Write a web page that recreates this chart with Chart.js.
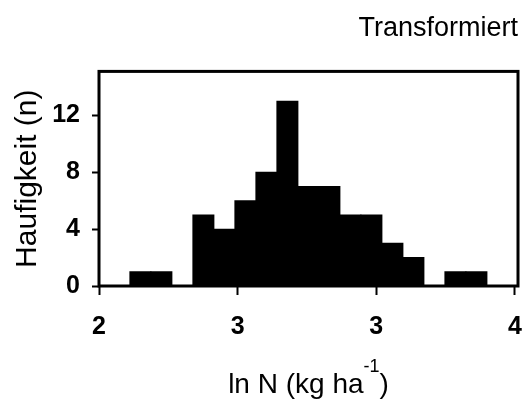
<!DOCTYPE html>
<html>
<head>
<meta charset="utf-8">
<script src="https://cdn.jsdelivr.net/npm/chart.js@4"></script>
<style>
  html, body { margin: 0; padding: 0; background: #fff; }
</style>
</head>
<body>
<canvas id="histChart" width="524" height="406"></canvas>
<script>
// Histogram of log-transformed N (ln kg/ha), one bar per bin
const binCenters = [2.199, 2.300, 2.401, 2.502, 2.603, 2.704, 2.805, 2.906, 3.007,
                    3.108, 3.209, 3.310, 3.411, 3.512, 3.613, 3.714, 3.815];
const counts = [1, 1, 0, 5, 4, 6, 8, 13, 7, 7, 5, 5, 3, 2, 0, 1, 1];

// x labels are rounded to whole numbers, hence the two "3"s
const xTickValues = [2, 2.667, 3.333, 4];
const xTickLabels = ["2", "3", "3", "4"];
const yTickValues = [0, 2, 4, 6, 8, 10, 12, 14];
const yTickLabels = ["0", "", "4", "", "8", "", "12", ""];

const FONT = "'Liberation Sans', Arial, sans-serif";

// closed box around the plot area
const frame = {
  id: "frame",
  afterDraw(chart) {
    const { ctx, chartArea: a } = chart;
    ctx.save();
    ctx.strokeStyle = "#000";
    ctx.lineWidth = 3;
    ctx.strokeRect(a.left, a.top, a.right - a.left, a.bottom - a.top);
    ctx.restore();
  }
};

// x axis title with a raised "-1"
const xTitle = {
  id: "xTitle",
  afterDraw(chart) {
    const { ctx, chartArea: a } = chart;
    const main = "ln N (kg ha";
    const sup = "-1";
    const close = ")";
    ctx.save();
    ctx.fillStyle = "#000";
    ctx.textBaseline = "alphabetic";
    ctx.font = "28px " + FONT;
    const wMain = ctx.measureText(main).width;
    const wClose = ctx.measureText(close).width;
    ctx.font = "18px " + FONT;
    const wSup = ctx.measureText(sup).width;
    let x = (a.left + a.right) / 2 - (wMain + wSup + wClose) / 2;
    const y = chart.height - 13;
    ctx.font = "28px " + FONT;
    ctx.fillText(main, x, y);
    x += wMain;
    ctx.font = "18px " + FONT;
    ctx.fillText(sup, x, y - 21);
    x += wSup;
    ctx.font = "28px " + FONT;
    ctx.fillText(close, x, y);
    ctx.restore();
  }
};

new Chart(document.getElementById("histChart"), {
  type: "bar",
  data: {
    datasets: [{
      data: binCenters.map((c, i) => ({ x: c, y: counts[i] })),
      backgroundColor: "#000",
      borderWidth: 0,
      barPercentage: 1,
      categoryPercentage: 1,
      inflateAmount: 0.5
    }]
  },
  options: {
    responsive: false,
    animation: false,
    devicePixelRatio: 1,
    layout: { padding: { left: 0, right: 6, top: 0, bottom: 0 } },
    plugins: {
      legend: { display: false },
      tooltip: { enabled: false },
      title: {
        display: true,
        text: "Transformiert",
        align: "end",
        color: "#000",
        font: { family: FONT, size: 27, weight: "normal" },
        padding: { top: 12, bottom: 27 }
      }
    },
    scales: {
      x: {
        type: "linear",
        min: 2,
        max: 4.015,
        offset: false,
        afterBuildTicks: (s) => { s.ticks = xTickValues.map((v) => ({ value: v })); },
        afterFit: (s) => { s.height = 120; s.paddingLeft = 0; s.paddingRight = 0; },
        ticks: {
          callback: (v, i) => xTickLabels[i],
          autoSkip: false,
          maxRotation: 0,
          padding: 17,
          color: "#000",
          font: { family: FONT, size: 25, weight: "bold" }
        },
        grid: {
          offset: false,
          drawOnChartArea: false,
          drawTicks: true,
          tickLength: 9,
          tickWidth: 2,
          tickColor: "#000"
        },
        border: { display: false }
      },
      y: {
        min: 0,
        max: 15.1,
        afterBuildTicks: (s) => { s.ticks = yTickValues.map((v) => ({ value: v })); },
        afterFit: (s) => { s.width = 99; },
        ticks: {
          callback: (v, i) => yTickLabels[i],
          padding: 12,
          color: "#000",
          font: { family: FONT, size: 25, weight: "bold" }
        },
        grid: {
          drawOnChartArea: false,
          drawTicks: true,
          tickLength: 7,
          tickWidth: 2,
          tickColor: "#000"
        },
        border: { display: false },
        title: {
          display: true,
          text: "Haufigkeit (n)",
          color: "#000",
          font: { family: FONT, size: 30, weight: "normal" },
          padding: { top: 10, bottom: 0 }
        }
      }
    }
  },
  plugins: [frame, xTitle]
});
</script>
</body>
</html>
